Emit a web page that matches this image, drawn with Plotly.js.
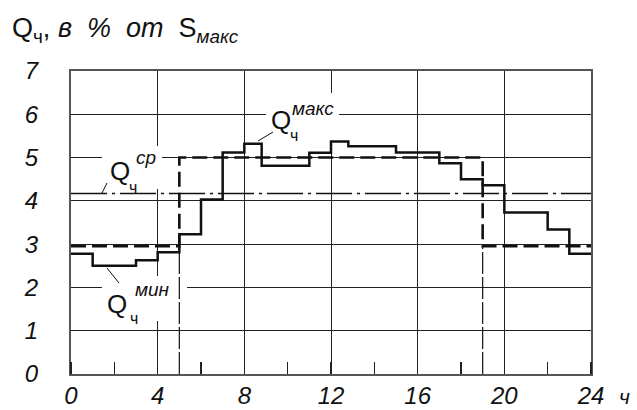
<!DOCTYPE html>
<html>
<head>
<meta charset="utf-8">
<script src="https://cdn.plot.ly/plotly-3.0.1.min.js"></script>
<style>html,body{margin:0;padding:0;background:#fff;}#chart{width:637px;height:410px;}</style>
</head>
<body>
<div id="chart"></div>
<script>
// ---- data ----
const hours = [0, 1, 3, 4, 5, 6, 7, 8, 8.8, 11, 12, 12.8, 15, 17, 18, 19, 20, 22, 23, 24];
const loadValues = [2.78, 2.50, 2.63, 2.81, 3.23, 4.03, 5.12, 5.32, 4.81, 5.11, 5.37, 5.26, 5.12, 4.87, 4.50, 4.36, 3.73, 3.34, 2.78];
const stepHours = [0, 5, 19, 24];
const stepValues = [2.95, 5.0, 2.95];
const avgValue = 4.17;
const xTickVals = [0, 4, 8, 12, 16, 20, 24];
const yTickVals = [0, 1, 2, 3, 4, 5, 6, 7];

// ---- geometry helpers (plot area in px) ----
const L = 71, R = 591, T = 71, B = 374;
const px2x = p => (p - L) / (R - L) * 24;
const py2y = p => (B - p) / (B - T) * 7;

const FONT = 'Liberation Sans, Arial, sans-serif';
const INK = '#111';
const NB = '\u00a0';

const traces = [
  { // thin guides at the step boundaries
    x: [stepHours[1], stepHours[1], null, stepHours[2], stepHours[2]],
    y: [0, stepValues[0], null, 0, stepValues[2]],
    mode: 'lines', line: {color: INK, width: 1.2, dash: '22px,3px'}, hoverinfo: 'skip'
  },
  { // two-level approximation (dashed)
    x: stepHours, y: stepValues.concat([stepValues[stepValues.length - 1]]),
    mode: 'lines', line: {shape: 'hv', color: INK, width: 2.6, dash: '15px,6px'}, hoverinfo: 'skip'
  },
  { // average (dash-dot)
    x: [0, 24], y: [avgValue, avgValue],
    mode: 'lines', line: {color: INK, width: 1.5, dash: '36px,5px,3px,5px'}, hoverinfo: 'skip'
  },
  { // hourly load (solid steps)
    x: hours, y: loadValues.concat([loadValues[loadValues.length - 1]]),
    mode: 'lines', line: {shape: 'hv', color: INK, width: 2.5}, hoverinfo: 'skip'
  }
];

function box(x0, y0, x1, y1) {
  return {type: 'rect', layer: 'between', xref: 'x', yref: 'y',
    x0: px2x(x0), x1: px2x(x1), y0: py2y(y1), y1: py2y(y0),
    fillcolor: '#fff', line: {width: 0}};
}
function leader(x0, y0, x1, y1) {
  return {type: 'line', layer: 'above', xref: 'x', yref: 'y',
    x0: px2x(x0), y0: py2y(y0), x1: px2x(x1), y1: py2y(y1),
    line: {color: INK, width: 1}};
}
function txt(text, cx, cy, size, italic) {
  return {text: text, xref: 'x', yref: 'y', x: px2x(cx), y: py2y(cy),
    xanchor: 'center', yanchor: 'middle', showarrow: false,
    font: {family: FONT, size: size, color: INK, style: italic ? 'italic' : 'normal'}};
}

const shapes = [
  box(266, 93, 339, 150),
  box(102, 146, 162, 189),
  box(102, 276, 187, 321),
  leader(258, 141, 273, 132),
  leader(102, 193, 107, 183),
  leader(107, 268, 119, 283)
];

const annotations = [
  txt('Q', 281, 120, 26, false), txt('ч', 294, 135, 16, false), txt('макс', 313, 108, 19, true),
  txt('Q', 119.5, 171, 26, false), txt('ч', 133, 187, 16, false), txt('ср', 146, 157, 19, true),
  txt('Q', 117, 304, 26, false), txt('ч', 134, 318, 16, false), txt('мин', 152, 289, 19, true),
  {text: 'Q<sub>ч</sub>,' + NB + '<i>в' + NB + NB + '%' + NB + NB + 'от' + NB + NB + '</i>S<sub><i>макс</i></sub>',
   xref: 'paper', yref: 'paper',
   x: (10 - L) / (R - L), y: (B - 30) / (B - T), xanchor: 'left', yanchor: 'middle', showarrow: false,
   font: {family: FONT, size: 27, color: INK}},
  {text: 'ч', xref: 'paper', yref: 'paper', x: (624 - L) / (R - L), y: (B - 396) / (B - T),
   xanchor: 'center', yanchor: 'middle', showarrow: false,
   font: {family: FONT, size: 21, color: INK, style: 'italic'}}
];

const layout = {
  width: 637, height: 410,
  margin: {l: L, r: 637 - R, t: T, b: 410 - B, pad: 0},
  paper_bgcolor: '#fff', plot_bgcolor: '#fff',
  showlegend: false,
  xaxis: {
    range: [0, 24], tickvals: xTickVals, ticktext: xTickVals.map(String),
    showgrid: true, gridcolor: '#222', gridwidth: 1, zeroline: false,
    showline: true, mirror: true, linecolor: '#555', linewidth: 2,
    ticks: '', ticklabelstandoff: -1,
    tickfont: {family: FONT, size: 24, color: INK, style: 'italic'},
    minor: {dtick: 2, tick0: 0, ticks: 'inside', ticklen: 12, tickcolor: '#222', tickwidth: 1.5, showgrid: false}
  },
  yaxis: {
    range: [0, 7], tickvals: yTickVals, ticktext: yTickVals.map(String),
    showgrid: true, gridcolor: '#222', gridwidth: 1, zeroline: false,
    showline: true, mirror: true, linecolor: '#555', linewidth: 2,
    ticks: '', ticklabelstandoff: 26,
    tickfont: {family: FONT, size: 24, color: INK, style: 'italic'}
  },
  shapes: shapes,
  annotations: annotations
};

Plotly.newPlot('chart', traces, layout, {staticPlot: true, displayModeBar: false});
</script>
</body>
</html>
